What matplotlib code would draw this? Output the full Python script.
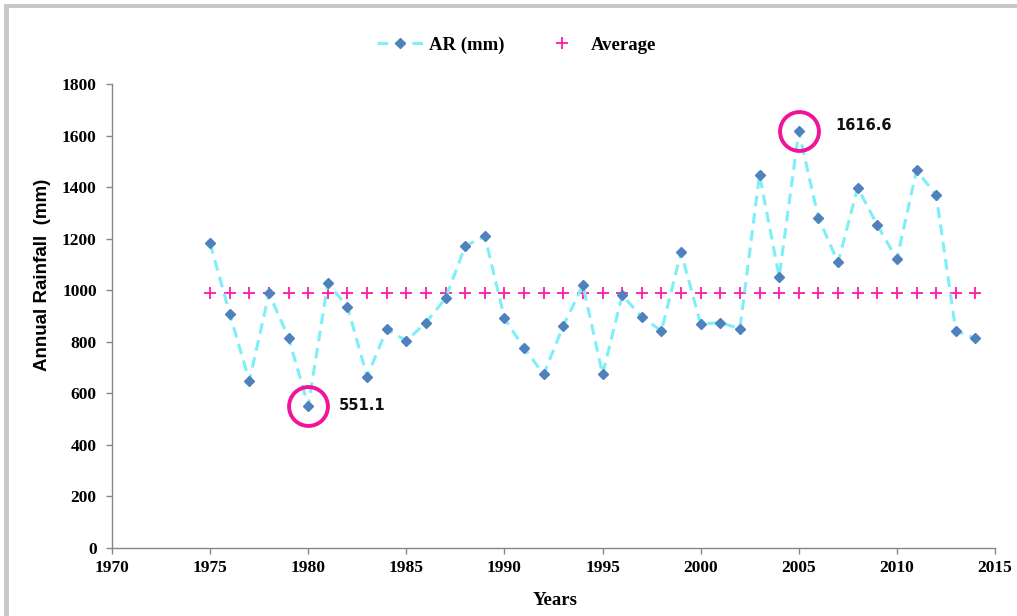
import matplotlib
matplotlib.use("Agg")
import matplotlib.pyplot as plt
from matplotlib.patches import Rectangle
from matplotlib.lines import Line2D

years = list(range(1975, 2015))
ar_mm = [1182, 908, 648, 988, 815, 551.1, 1027, 936, 665, 848,
         804, 874, 969, 1171, 1210, 891, 776, 674, 862, 1020,
         674, 981, 896, 842, 1147, 869, 874, 851, 1448, 1052,
         1616.6, 1281, 1108, 1398, 1253, 1120, 1465, 1370, 843, 813]
average_mm = 990.0
x_ticks = [1970, 1975, 1980, 1985, 1990, 1995, 2000, 2005, 2010, 2015]
y_ticks = [0, 200, 400, 600, 800, 1000, 1200, 1400, 1600, 1800]
highlight_years = [1980, 2005]
highlight_labels = ["551.1", "1616.6"]

W, H = 1017, 616
fig = plt.figure(figsize=(W / 100, H / 100), dpi=100)
serif = ["Liberation Serif", "DejaVu Serif"]

# outer frame (grey band at top and left)
fig.patches.append(Rectangle((4 / W, 0), 5 / W, 1 - 4 / H, transform=fig.transFigure,
                             facecolor="#C8C8C8", edgecolor="none"))
fig.patches.append(Rectangle((4 / W, 1 - 8 / H), 1, 4 / H, transform=fig.transFigure,
                             facecolor="#C8C8C8", edgecolor="none"))

ax = fig.add_axes([112 / W, 1 - 548 / H, (995 - 112) / W, (548 - 84) / H])

line_color = "#7EEFF7"
marker_color = "#4F81BD"
pink = "#F0149B"
plus_color = "#FF1AA8"

ax.plot(years, ar_mm, linestyle=(0, (3.5, 2.2)), color=line_color, linewidth=2.2,
        marker="D", markersize=5, markerfacecolor=marker_color,
        markeredgecolor=marker_color, zorder=3)
ax.plot(years, [average_mm] * len(years), linestyle="none", marker="+",
        markersize=8, markeredgewidth=1.3, color=plus_color, zorder=2)

ax.set_xlim(1970, 2015)
ax.set_ylim(0, 1800)
ax.set_xticks(x_ticks)
ax.set_yticks(y_ticks)
ax.set_xticklabels([str(v) for v in x_ticks], family=serif, fontweight="bold", fontsize=12.5)
ax.set_yticklabels([str(v) for v in y_ticks], family=serif, fontweight="bold", fontsize=12.5)

for s in ["top", "right"]:
    ax.spines[s].set_visible(False)
for s in ["left", "bottom"]:
    ax.spines[s].set_color("#868686")
    ax.spines[s].set_linewidth(1.0)
ax.tick_params(axis="both", direction="out", length=4.5, color="#868686", width=1.0)
ax.tick_params(axis="y", pad=6.5)
ax.tick_params(axis="x", pad=4)

ax.set_xlabel("Years", family=serif, fontweight="bold", fontsize=13.5)
ax.xaxis.set_label_coords((555 - 112) / 883, (548 - 592) / 464)
ax.set_ylabel("Annual Rainfall  (mm)", family=["Liberation Sans Narrow", "Liberation Sans", "DejaVu Sans"],
              fontweight="bold", fontsize=13.5)
ax.yaxis.set_label_coords((51 - 112) / 883, (548 - 275) / 464)

# highlight circles and labels
offsets = [(22, 0), (26, 4)]
for yr, lab, off in zip(highlight_years, highlight_labels, offsets):
    val = ar_mm[years.index(yr)]
    ax.plot([yr], [val], marker="o", markersize=28, markerfacecolor="none",
            markeredgecolor=pink, markeredgewidth=2.8, zorder=4)
    ax.annotate(lab, xy=(yr, val), xytext=off, textcoords="offset points",
                ha="left", va="center", fontsize=10.5, fontweight="bold",
                family="DejaVu Sans", color="#111111")

handles = [
    Line2D([], [], linestyle=(0, (3.5, 2.2)), color=line_color, linewidth=2.2,
           marker="D", markersize=5, markerfacecolor=marker_color, markeredgecolor=marker_color),
    Line2D([], [], linestyle="none", marker="+", markersize=8, markeredgewidth=1.3, color=plus_color),
]
fig.legend(handles, ["AR (mm)", "Average"], loc="center", bbox_to_anchor=(0.508, 1 - 45 / H),
           ncol=2, frameon=False, prop={"family": serif, "weight": "bold", "size": 13.5},
           handlelength=2.5, columnspacing=1.8, handletextpad=0.3)

fig.savefig("out.png", dpi=100)
